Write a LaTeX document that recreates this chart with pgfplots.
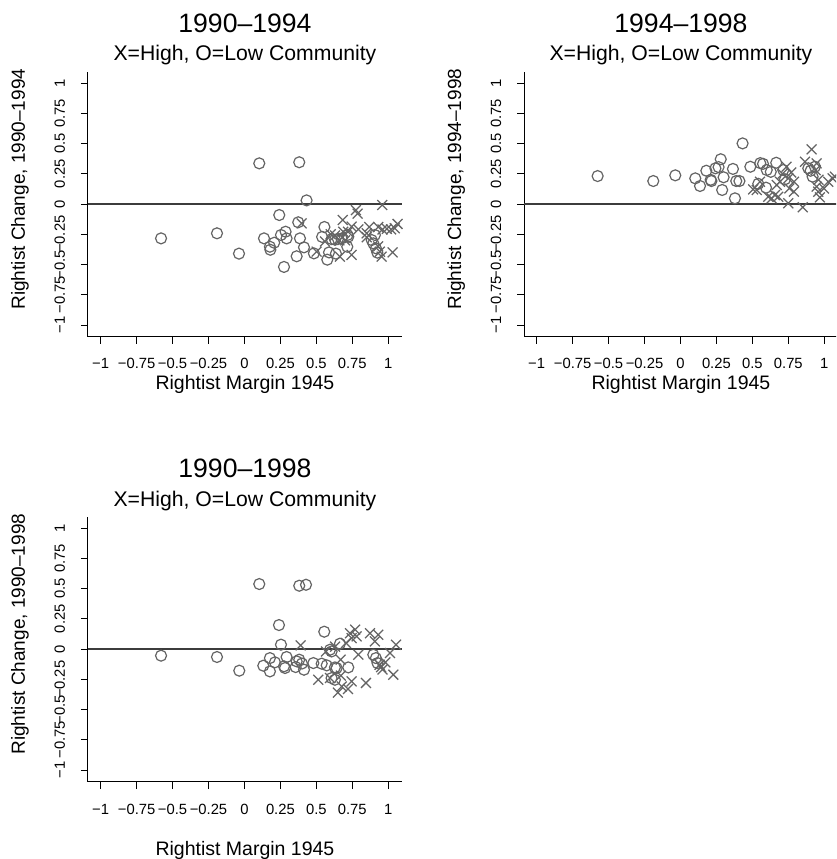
\documentclass[border=0pt]{standalone}
\usepackage{fontspec}
\setmainfont{Liberation Sans}
\usepackage{pgfplots}
\pgfplotsset{compat=1.18}
\definecolor{mk}{RGB}{100,100,100}
\definecolor{zl}{RGB}{60,60,60}
\pgfplotsset{
  panel/.style={
    anchor=south west,
    x=143.8pt, y=121pt,
    xmin=-1.088, xmax=1.095, ymin=-1.099, ymax=1.091,
    axis x line*=bottom, axis y line*=left,
    axis line style={line width=1pt,black,-},
    tick align=outside, major tick length=7pt,
    tick style={line width=1pt,black},
    xtick={-1,-0.75,-0.5,-0.25,0,0.25,0.5,0.75,1},
    ytick={-1,-0.75,-0.5,-0.25,0,0.25,0.5,0.75,1},
    xticklabels={−1,−0.75,−0.5,−0.25,0,0.25,0.5,0.75,1},
    yticklabels={−1,−0.75,−0.5,−0.25,0,0.25,0.5,0.75,1},
    ticklabel style={font=\fontsize{14.8}{14.8}\selectfont, inner sep=0pt, outer sep=0pt},
    xticklabel style={anchor=base, yshift=-25pt},
    yticklabel style={xshift=-16pt, rotate=90, anchor=base},
    clip=false,
  },
  cir/.style={only marks, mark=o, mark size=5.5pt, mark options={line width=1.2pt, draw=mk}, color=mk},
  crs/.style={only marks, mark=x, mark size=7pt, mark options={line width=1.25pt}, color=mk},
  zero/.style={zl, line width=1.6pt, no marks},
}
\newcommand{\paneltext}[2]{%
  \node[anchor=base, font=\fontsize{26.6}{26.6}\selectfont] at (rel axis cs:0.5,1) [yshift=39.7pt] {#1};
  \node[anchor=base, font=\fontsize{21.2}{21.2}\selectfont] at (rel axis cs:0.5,1) [yshift=11pt] {X=High, O=Low Community};
  \node[xshift=-63pt, rotate=90, anchor=base, font=\fontsize{19}{19}\selectfont] at (rel axis cs:0,0.558) {Rightist Change, #1};
  \node[anchor=base, font=\fontsize{19.5}{19.5}\selectfont] at (rel axis cs:0.5,0) [yshift=#2] {Rightist Margin 1945};
}
\begin{document}
\begin{tikzpicture}[x=1pt,y=1pt]
\useasboundingbox (0,0) rectangle (836,859);
\clip (0,0) rectangle (836,859);

% ---------------- Panel 1: 1990-1994
\begin{axis}[panel, at={(88pt,522pt)}]
\addplot[zero] coordinates {(-1.088,0) (1.095,0)};
\addplot[cir] coordinates {
(-0.58,-0.284) (-0.191,-0.242) (-0.038,-0.41) (0.103,0.336) (0.381,0.345)
(0.432,0.03) (0.242,-0.091) (0.374,-0.151) (0.136,-0.284) (0.177,-0.353)
(0.180,-0.378) (0.207,-0.32) (0.254,-0.256) (0.286,-0.229) (0.293,-0.284)
(0.275,-0.52) (0.386,-0.284) (0.414,-0.358) (0.363,-0.432) (0.483,-0.408)
(0.556,-0.19) (0.54,-0.272) (0.576,-0.46) (0.588,-0.40) (0.606,-0.29)
(0.63,-0.295) (0.65,-0.29) (0.676,-0.285) (0.636,-0.41) (0.722,-0.27)
(0.715,-0.353) (0.717,-0.256) (0.885,-0.298) (0.896,-0.325) (0.914,-0.366)
(0.924,-0.402) (0.907,-0.256)
};
\addplot[crs] coordinates {
(0.958,-0.008) (0.775,-0.05) (0.787,-0.08) (0.398,-0.16) (0.683,-0.132)
(0.745,-0.187) (0.792,-0.209) (0.868,-0.19) (0.93,-0.19) (0.96,-0.21)
(0.99,-0.205) (1.02,-0.21) (1.045,-0.2) (1.065,-0.165) (0.687,-0.229)
(0.72,-0.23) (0.63,-0.26) (0.66,-0.30) (0.70,-0.30) (0.502,-0.394)
(0.664,-0.435) (0.745,-0.421) (0.85,-0.242) (0.85,-0.275) (0.942,-0.394)
(0.954,-0.435) (1.03,-0.40) (0.93,-0.35) (0.60,-0.25) (0.56,-0.31)
};
\paneltext{1990–1994}{-53pt}
\end{axis}

% ---------------- Panel 2: 1994-1998
\begin{axis}[panel, at={(524pt,522pt)}]
\addplot[zero] coordinates {(-1.088,0) (1.095,0)};
\addplot[cir] coordinates {
(-0.576,0.231) (-0.189,0.19) (-0.036,0.237) (0.432,0.501) (0.103,0.212)
(0.136,0.149) (0.18,0.275) (0.21,0.20) (0.243,0.295) (0.28,0.37)
(0.265,0.305) (0.30,0.221) (0.29,0.116) (0.365,0.29) (0.379,0.047)
(0.388,0.19) (0.41,0.19) (0.486,0.308) (0.555,0.338) (0.574,0.332)
(0.60,0.281) (0.628,0.266) (0.666,0.341) (0.541,0.167) (0.595,0.135)
(0.715,0.281) (0.727,0.204) (0.889,0.295) (0.905,0.275) (0.919,0.226)
(0.935,0.308) (0.215,0.19)
};
\addplot[crs] coordinates {
(0.912,0.452) (0.866,0.35) (0.947,0.336) (0.94,0.28) (0.53,0.116)
(0.553,0.184) (0.611,0.06) (0.634,0.047) (0.657,0.074) (0.669,0.157)
(0.692,0.184) (0.738,0.308) (0.75,0.212) (0.757,0.129) (0.75,0.006)
(0.789,0.184) (0.789,0.102) (0.85,-0.027) (0.947,0.143) (0.958,0.102)
(0.97,0.055) (0.998,0.129) (1.028,0.184) (1.058,0.212) (1.074,0.226)
(0.71,0.25) (0.77,0.26) (0.506,0.121) (0.68,0.06) (0.96,0.20)
};
\paneltext{1994–1998}{-53pt}
\end{axis}

% ---------------- Panel 3: 1990-1998
\begin{axis}[panel, at={(88pt,77pt)}]
\addplot[zero] coordinates {(-1.088,0) (1.095,0)};
\addplot[cir] coordinates {
(-0.58,-0.055) (-0.191,-0.066) (-0.036,-0.179) (0.103,0.537) (0.381,0.523)
(0.428,0.531) (0.24,0.198) (0.254,0.036) (0.555,0.143) (0.177,-0.075)
(0.131,-0.138) (0.177,-0.185) (0.212,-0.11) (0.293,-0.066) (0.275,-0.143)
(0.282,-0.157) (0.363,-0.102) (0.381,-0.088) (0.356,-0.149) (0.414,-0.171)
(0.479,-0.116) (0.537,-0.121) (0.572,-0.135) (0.629,-0.152) (0.722,-0.152)
(0.664,0.044) (0.606,-0.02) (0.595,-0.006) (0.606,-0.24) (0.629,-0.254)
(0.641,-0.157) (0.896,-0.047) (0.914,-0.075) (0.925,-0.116) (0.40,-0.12)
};
\addplot[crs] coordinates {
(0.391,0.03) (0.567,-0.02) (0.706,0.05) (0.734,0.13) (0.77,0.16)
(0.745,0.09) (0.78,0.104) (0.792,-0.047) (0.873,0.13) (0.93,0.118)
(0.907,0.063) (1.054,0.036) (1.012,-0.033) (0.94,-0.13) (0.96,-0.17)
(0.98,-0.11) (1.035,-0.212) (0.513,-0.254) (0.595,-0.24) (0.67,-0.22)
(0.676,-0.31) (0.745,-0.268) (0.845,-0.28) (0.669,-0.088) (0.65,-0.36)
(0.72,-0.33) (0.63,0.02) (0.95,-0.15)
};
\paneltext{1990–1998}{-73pt}
\end{axis}
\end{tikzpicture}
\end{document}
